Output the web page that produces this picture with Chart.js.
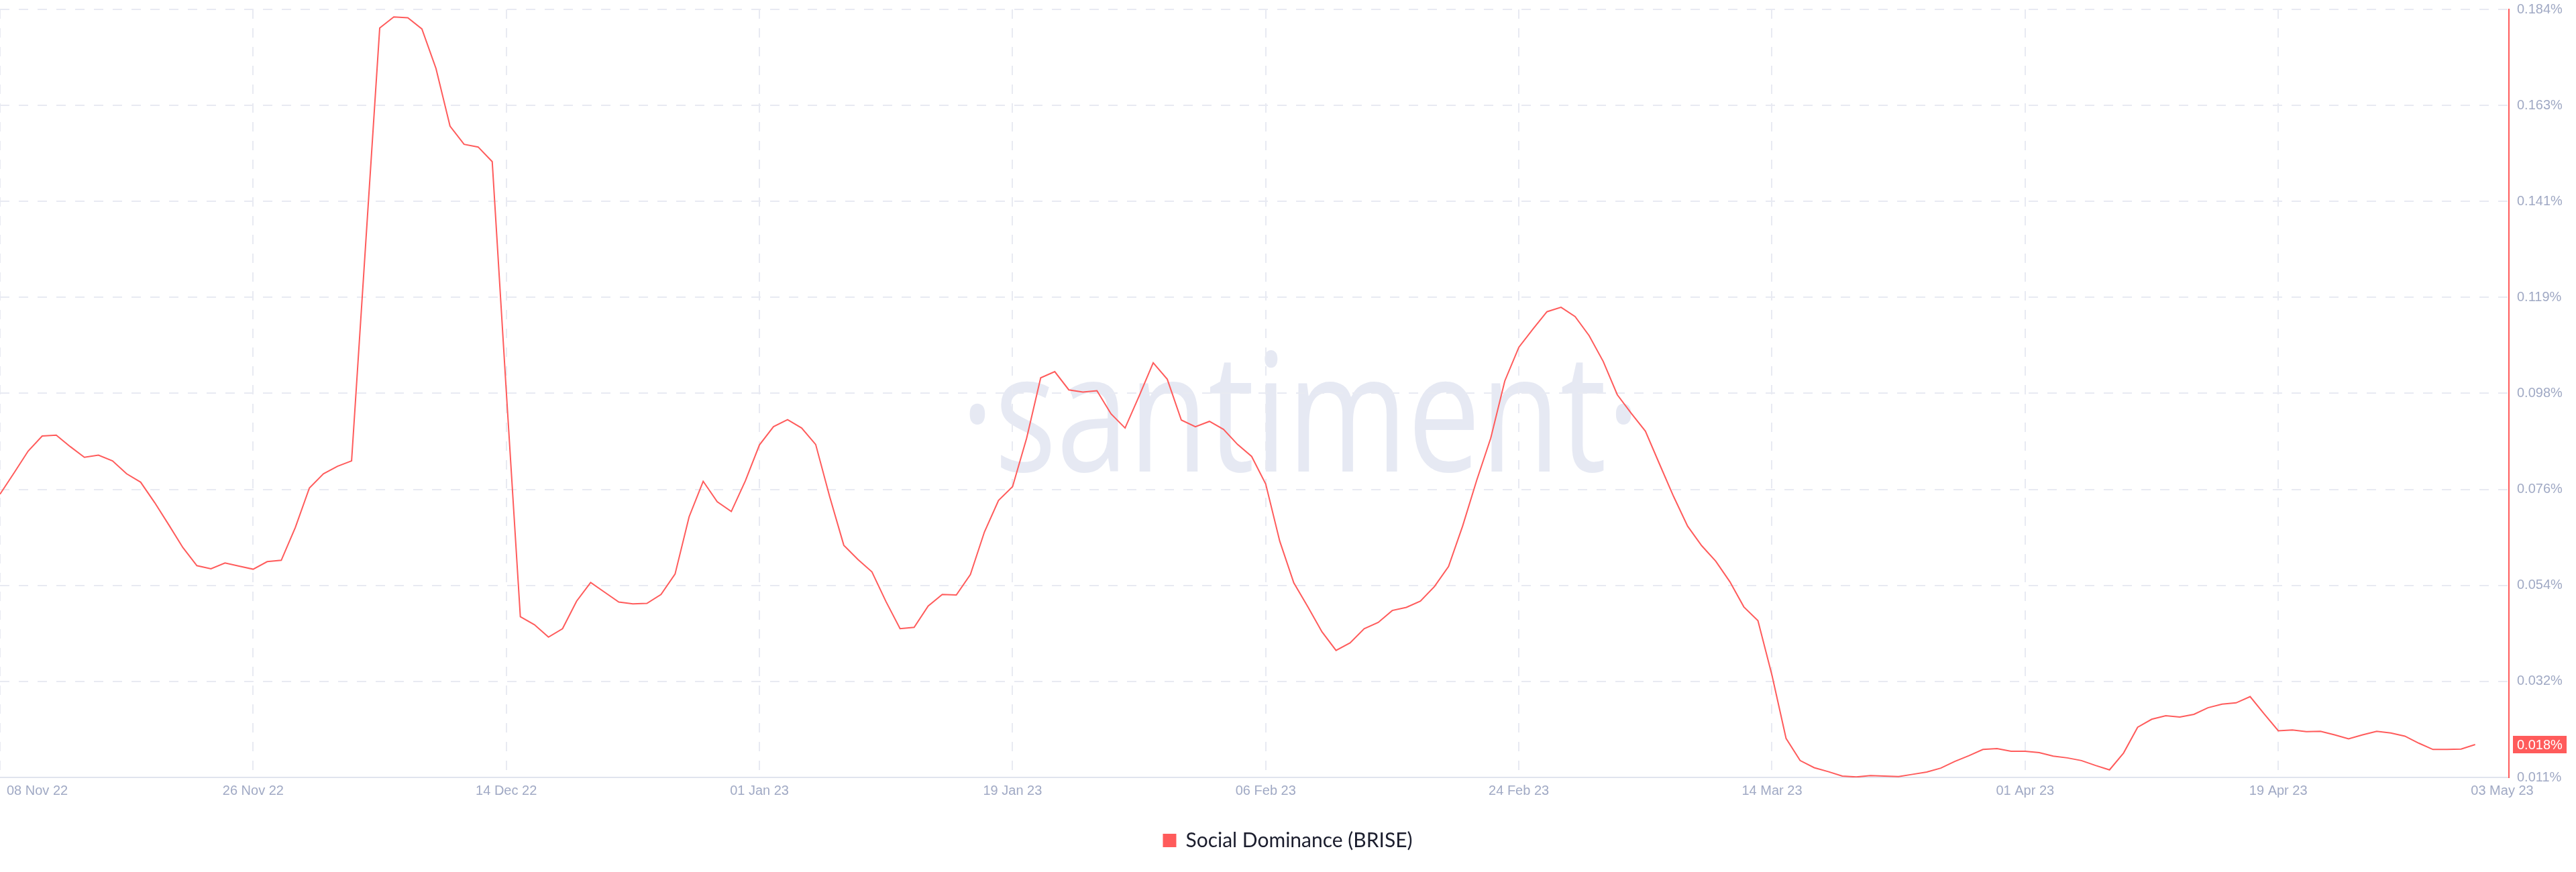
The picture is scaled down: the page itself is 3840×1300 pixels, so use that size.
<!DOCTYPE html>
<html>
<head>
<meta charset="utf-8">
<title>Social Dominance (BRISE)</title>
<script src="https://cdn.jsdelivr.net/npm/chart.js@4.4.1/dist/chart.umd.min.js"></script>
<style>
  html, body { margin: 0; padding: 0; background: #fff; }
</style>
</head>
<body>
<canvas id="chart" width="3840" height="1300"></canvas>
<script>
// one value per day, 08 Nov 22 (day 0) .. 03 May 23 (day 176), in %
const dominance = [
  0.0748, 0.0796, 0.0845, 0.0879, 0.0881, 0.0855, 0.0831, 0.0836, 0.0823, 0.0794,
  0.0775, 0.0729, 0.0679, 0.0628, 0.0587, 0.0580, 0.0593, 0.0586, 0.0579, 0.0596,
  0.0599, 0.0673, 0.0762, 0.0794, 0.0811, 0.0823, 0.1311, 0.1798, 0.1823, 0.1821,
  0.1796, 0.1707, 0.1577, 0.1536, 0.1530, 0.1497, 0.0980, 0.0472, 0.0454, 0.0426,
  0.0445, 0.0507, 0.0549, 0.0527, 0.0505, 0.0501, 0.0502, 0.0522, 0.0568, 0.0697,
  0.0777, 0.0731, 0.0709, 0.0778, 0.0859, 0.0900, 0.0916, 0.0897, 0.0860, 0.0742,
  0.0633, 0.0601, 0.0573, 0.0506, 0.0445, 0.0448, 0.0496, 0.0522, 0.0521, 0.0567,
  0.0663, 0.0734, 0.0765, 0.0874, 0.1010, 0.1024, 0.0983, 0.0978, 0.0981, 0.0929,
  0.0897, 0.0969, 0.1044, 0.1007, 0.0915, 0.0900, 0.0912, 0.0894, 0.0860, 0.0833,
  0.0771, 0.0642, 0.0548, 0.0494, 0.0438, 0.0396, 0.0413, 0.0445, 0.0459, 0.0486,
  0.0493, 0.0507, 0.0540, 0.0585, 0.0676, 0.0779, 0.0874, 0.1003, 0.1079, 0.1120,
  0.1159, 0.1169, 0.1148, 0.1105, 0.1047, 0.0972, 0.0930, 0.0890, 0.0816, 0.0743,
  0.0676, 0.0632, 0.0597, 0.0551, 0.0494, 0.0463, 0.0340, 0.0198, 0.0148, 0.0132,
  0.0123, 0.0113, 0.0111, 0.0114, 0.0113, 0.0112, 0.0117, 0.0122, 0.0131, 0.0146,
  0.0159, 0.0173, 0.0175, 0.0169, 0.0169, 0.0166, 0.0158, 0.0154, 0.0148, 0.0137,
  0.0127, 0.0165, 0.0223, 0.0241, 0.0249, 0.0246, 0.0252, 0.0267, 0.0275, 0.0278,
  0.0292, 0.0253, 0.0215, 0.0217, 0.0213, 0.0214, 0.0206, 0.0197, 0.0206, 0.0214,
  0.0210, 0.0203, 0.0187, 0.0173, 0.0173, 0.0174, 0.0184
];

const xTickDays = [0, 18, 36, 54, 72, 90, 108, 126, 144, 162, 176];
const xTickLabels = ['08 Nov 22', '26 Nov 22', '14 Dec 22', '01 Jan 23', '19 Jan 23', '06 Feb 23',
  '24 Feb 23', '14 Mar 23', '01 Apr 23', '19 Apr 23', '03 May 23'];

const yTicks = [0.011, 0.032625, 0.05425, 0.075875, 0.0975, 0.119125, 0.14075, 0.162375, 0.184];
const yTickLabels = ['0.011%', '0.032%', '0.054%', '0.076%', '0.098%', '0.119%', '0.141%', '0.163%', '0.184%'];

const seriesName = 'Social Dominance (BRISE)';

const lineColor = '#ff5b5b';
const axisText = '#a0a9c4';
const gridColor = '#e8eaf2';
const tickFont = { family: 'Liberation Sans', size: 20 };

const watermark = {
  id: 'watermark',
  beforeDraw(chart) {
    const ctx = chart.ctx;
    const text = '\u00b7santiment\u00b7';
    ctx.save();
    ctx.font = '400 245px "Open Sans"';
    ctx.fillStyle = '#e6e9f3';
    const m = ctx.measureText(text);
    const inkW = m.actualBoundingBoxLeft + m.actualBoundingBoxRight;
    ctx.translate(1445, 633);
    ctx.scale(987 / inkW, 1);
    ctx.fillText(text, m.actualBoundingBoxLeft, 0);
    ctx.restore();
  }
};

// last value tag on the right axis, and the two end date labels
const extras = {
  id: 'extras',
  afterDraw(chart) {
    const { ctx, chartArea, scales: { x, y } } = chart;
    const last = dominance[dominance.length - 1];
    const py = y.getPixelForValue(last);
    ctx.save();
    ctx.fillStyle = lineColor;
    ctx.fillRect(chartArea.right + 6, py - 13, 80, 26);
    ctx.fillStyle = '#fff';
    ctx.font = '20px "Liberation Sans"';
    ctx.textBaseline = 'middle';
    ctx.textAlign = 'left';
    ctx.fillText(last.toFixed(3) + '%', chartArea.right + 12, py + 1);

    const ly = x.top + 8 + 12;
    ctx.fillStyle = axisText;
    ctx.fillText(xTickLabels[0], x.getPixelForValue(xTickDays[0]) + 10, ly);
    ctx.textAlign = 'center';
    ctx.fillText(xTickLabels[xTickLabels.length - 1], x.getPixelForValue(x.max) - 10, ly);
    ctx.restore();
  }
};

const lastTick = xTickDays.length - 1;

new Chart(document.getElementById('chart'), {
  type: 'line',
  data: {
    datasets: [{
      label: seriesName,
      data: dominance.map((v, i) => ({ x: i, y: v })),
      borderColor: lineColor,
      backgroundColor: lineColor,
      borderWidth: 2,
      pointRadius: 0,
      tension: 0,
      fill: false
    }]
  },
  options: {
    responsive: false,
    animation: false,
    devicePixelRatio: 1,
    layout: { autoPadding: false, padding: { top: 14, right: 0, bottom: 22, left: 0 } },
    scales: {
      x: {
        type: 'linear',
        min: 0,
        max: 178.4,
        afterBuildTicks: s => { s.ticks = xTickDays.map(v => ({ value: v })); },
        afterFit: s => { s.height = 67; s.paddingLeft = 0; s.paddingRight = 0; },
        ticks: {
          autoSkip: false,
          maxRotation: 0,
          padding: 8,
          font: tickFont,
          color: c => (c.index === 0 || c.index === lastTick) ? 'rgba(0,0,0,0)' : axisText,
          callback: (v, i) => xTickLabels[i]
        },
        grid: {
          color: c => c.index === lastTick ? 'rgba(0,0,0,0)' : gridColor,
          lineWidth: 2,
          drawTicks: false
        },
        border: { color: '#e0e4ee', width: 2, dash: [14, 14] }
      },
      y: {
        position: 'right',
        min: 0.011,
        max: 0.184,
        afterBuildTicks: s => { s.ticks = yTicks.map(v => ({ value: v })); },
        afterFit: s => { s.width = 100; s.paddingTop = 0; s.paddingBottom = 0; },
        ticks: {
          padding: 12,
          font: tickFont,
          color: axisText,
          callback: (v, i) => yTickLabels[i]
        },
        grid: { color: gridColor, lineWidth: 2, drawTicks: false },
        border: { color: lineColor, width: 2, dash: [14, 14] }
      }
    },
    plugins: {
      tooltip: { enabled: false },
      legend: {
        position: 'bottom',
        labels: {
          boxWidth: 18,
          boxHeight: 18,
          padding: 12,
          color: '#1b1d2d',
          font: { family: 'Lato', size: 30 }
        }
      }
    }
  },
  plugins: [watermark, extras]
});
</script>
</body>
</html>
